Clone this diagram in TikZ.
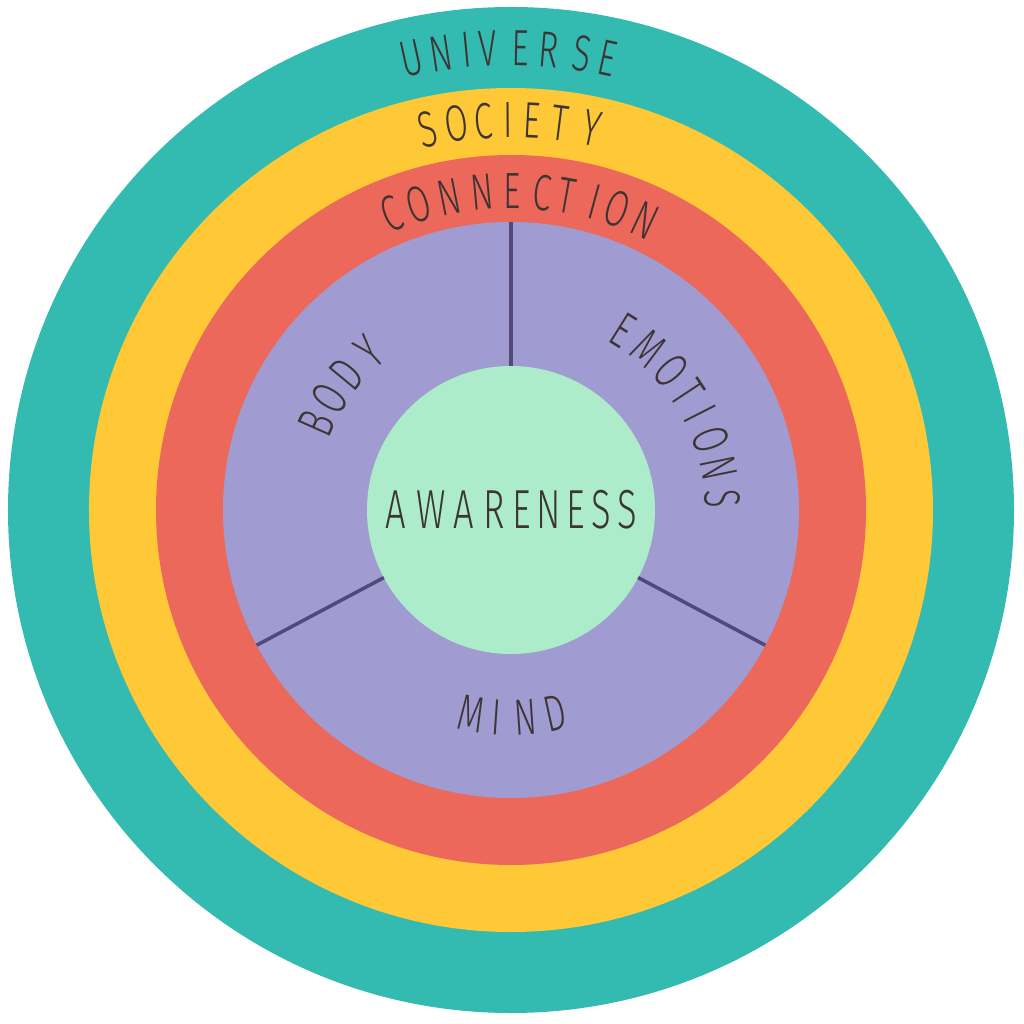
\documentclass[tikz,border=0pt]{standalone}
\usepackage{fontspec}
\IfFontExistsTF{Fira Sans Light}
  {\newfontfamily\lblfont[FakeStretch=0.66]{Fira Sans Light}}
  {\newfontfamily\lblfont[FakeStretch=0.66]{Fira Sans}}
\definecolor{teal}{HTML}{33BBB2}
\definecolor{sun}{HTML}{FFC837}
\definecolor{coral}{HTML}{EC685A}
\definecolor{lav}{HTML}{A09BD0}
\definecolor{mint}{HTML}{ACECCB}
\definecolor{ink}{HTML}{3D3434}
\definecolor{divider}{HTML}{54487A}
\tikzset{
  lbl/.style={inner sep=0pt, text=ink, font=\lblfont\fontsize{51}{51}\selectfont},
  ctr/.style={lbl, font=\lblfont\fontsize{55}{55}\selectfont},
  divline/.style={draw=divider, line width=3.5pt},
}
\newcommand\ringword[4]{%
  \foreach \ch/\ang [count=\k] in {#4} {%
    \node[lbl, rotate=\ang#2] (#3\k) at (\ang:#1) {\ch};}}
\begin{document}
\begin{tikzpicture}[x=1pt,y=1pt]
\useasboundingbox (-511,-514) rectangle (513,510);
\fill[white] (-511,-514) rectangle (513,510);
\fill[teal] (0,0) circle (503);
\fill[sun] (0,0) circle (422);
\fill[coral] (0,0) circle (355);
\fill[lav] (0,0) circle (288);
\fill[mint] (0,0) circle (144);
% dividers
\foreach \a/\n in {90/a, 208/b, 332/c} {
  \coordinate (in\n) at (\a:144);
  \coordinate (out\n) at (\a:288);
  \draw[divline] (in\n) -- (out\n);
}
% ring labels
\ringword{462}{-90}{uni}{U/102.4, N/98.7, I/95.5, V/92.9, E/88.8, R/85.3, S/81.2, E/77.9}
\ringword{390}{-90}{soc}{S/102.4, O/98.1, C/94.1, I/90.4, E/86.9, T/82.8, Y/78.0}
\ringword{319}{-90}{con}{C/112, O/106.8, N/101.2, N/95.2, E/89.8, C/84.4, T/79.9, I/74.7, O/70.5, N/65.1}
\ringword{213}{-90}{bod}{B/156, O/148.4, D/140.4, Y/131.8}
\ringword{212}{-90}{emo}{E/58, M/49.5, O/41, T/33.5, I/27, O/19.5, N/11.5, S/3}
\ringword{208}{+90}{mnd}{M/259.1, I/266.1, N/273.9, D/282.3}
% center
\foreach \ch/\x [count=\k] in {A/-115, W/-80, A/-47, R/-17, E/11, N/38, E/65, S/90, S/116} {
  \node[ctr] (aw\k) at (\x,0) {\ch};
}
\end{tikzpicture}
\end{document}
